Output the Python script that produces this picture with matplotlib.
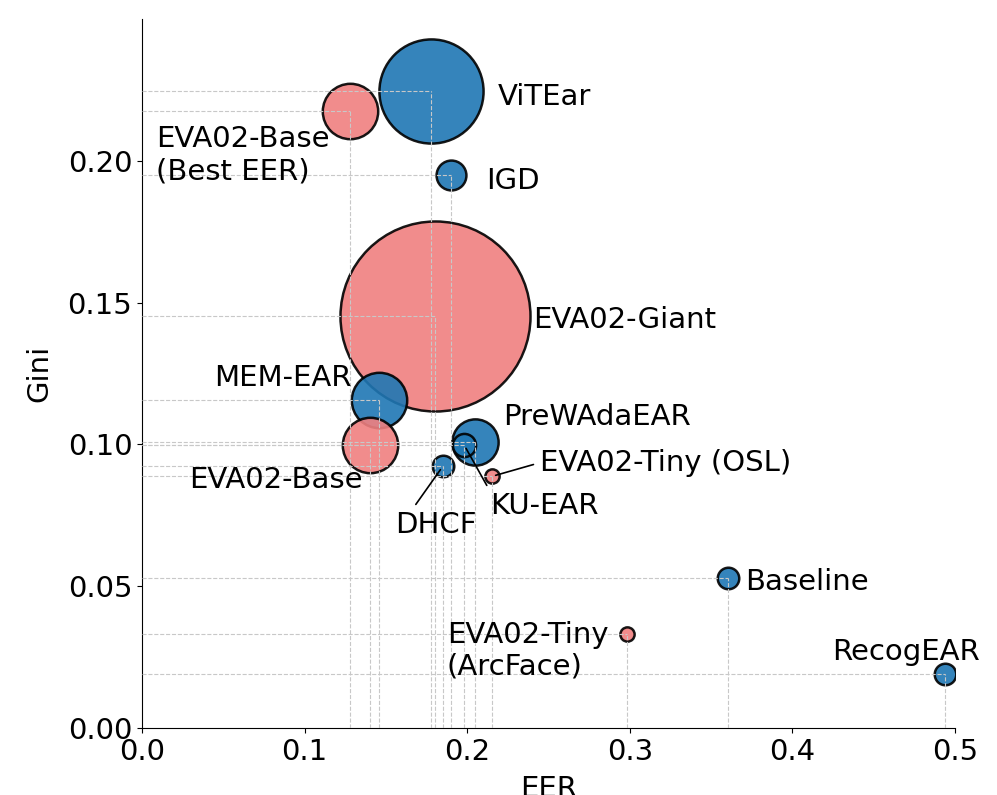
import matplotlib
matplotlib.use('Agg')
from matplotlib import pyplot as plt

# data
models = ['EVA02-Giant', 'ViTEar', 'EVA02-Base\n(Best EER)', 'IGD', 'MEM-EAR', 'EVA02-Base',
          'PreWAdaEAR', 'KU-EAR', 'DHCF', 'EVA02-Tiny (OSL)', 'Baseline',
          'EVA02-Tiny\n(ArcFace)', 'RecogEAR']
eer = [0.180, 0.178, 0.128, 0.190, 0.146, 0.140, 0.205, 0.198, 0.185, 0.215, 0.3605, 0.298, 0.494]
gini = [0.1452, 0.2245, 0.2177, 0.1949, 0.1157, 0.0997, 0.1010, 0.0999, 0.0923, 0.0887, 0.0528, 0.0331, 0.0189]
params_m = [1012, 304, 86, 25, 86, 86, 60, 15, 13, 5.7, 13, 5.7, 13]
is_eva = [True, False, True, False, False, True, False, False, False, True, False, True, False]

# label placement (offset points, ha, va, arrow relpos)
label_style = {
    'EVA02-Giant': ((71, -3), 'left', 'center', None),
    'ViTEar': ((48, -4), 'left', 'center', None),
    'EVA02-Base\n(Best EER)': ((-140, -32), 'left', 'center', None),
    'IGD': ((25, -4), 'left', 'center', None),
    'MEM-EAR': ((-20, 16), 'right', 'center', None),
    'EVA02-Base': ((-5, -25), 'right', 'center', None),
    'PreWAdaEAR': ((20, 18), 'left', 'center', None),
    'KU-EAR': ((19, -44), 'left', 'center', (0, 1)),
    'DHCF': ((-5, -42), 'center', 'center', (0.2, 1)),
    'EVA02-Tiny (OSL)': ((35, 10), 'left', 'center', (0, 0.5)),
    'Baseline': ((12, -3), 'left', 'center', None),
    'EVA02-Tiny\n(ArcFace)': ((-13, -12), 'right', 'center', None),
    'RecogEAR': ((-28, 16), 'center', 'center', None),
}

fig = plt.figure(figsize=(9.97, 7.95), dpi=100)
ax = fig.add_axes([0.1424, 0.0843, 0.8156, 0.8917])

for name, x, y, p, eva in zip(models, eer, gini, params_m, is_eva):
    color = 'lightcoral' if eva else '#1f77b4'
    ax.scatter(x, y, s=p * 18.5, c=color, alpha=0.9, edgecolors='black', linewidths=1.8, zorder=2)
    ax.plot([0, x], [y, y], ls='--', c='#c8c8c8', lw=0.8, zorder=3)
    ax.plot([x, x], [0, y], ls='--', c='#c8c8c8', lw=0.8, zorder=3)

    offset, ha, va, relpos = label_style[name]
    arrow = None
    if relpos is not None:
        arrow = dict(arrowstyle='-', color='black', lw=1.2, relpos=relpos, shrinkA=3, shrinkB=3)
    ax.annotate(name, (x, y), xytext=offset, textcoords='offset points', ha=ha, va=va,
                multialignment='left', fontsize=21, arrowprops=arrow, zorder=4)

ax.set_xlim(0, 0.5)
ax.set_ylim(0, 0.25)
ax.set_xticks([0.0, 0.1, 0.2, 0.3, 0.4, 0.5])
ax.set_yticks([0.0, 0.05, 0.10, 0.15, 0.20])
ax.set_yticklabels(['0.00', '0.05', '0.10', '0.15', '0.20'])
ax.spines['top'].set_visible(False)
ax.spines['right'].set_visible(False)
ax.tick_params(axis='both', labelsize=21)
ax.set_xlabel('EER', fontsize=21, labelpad=7)
ax.set_ylabel('Gini', fontsize=21, labelpad=10)

fig.savefig('out.png', dpi=100)
